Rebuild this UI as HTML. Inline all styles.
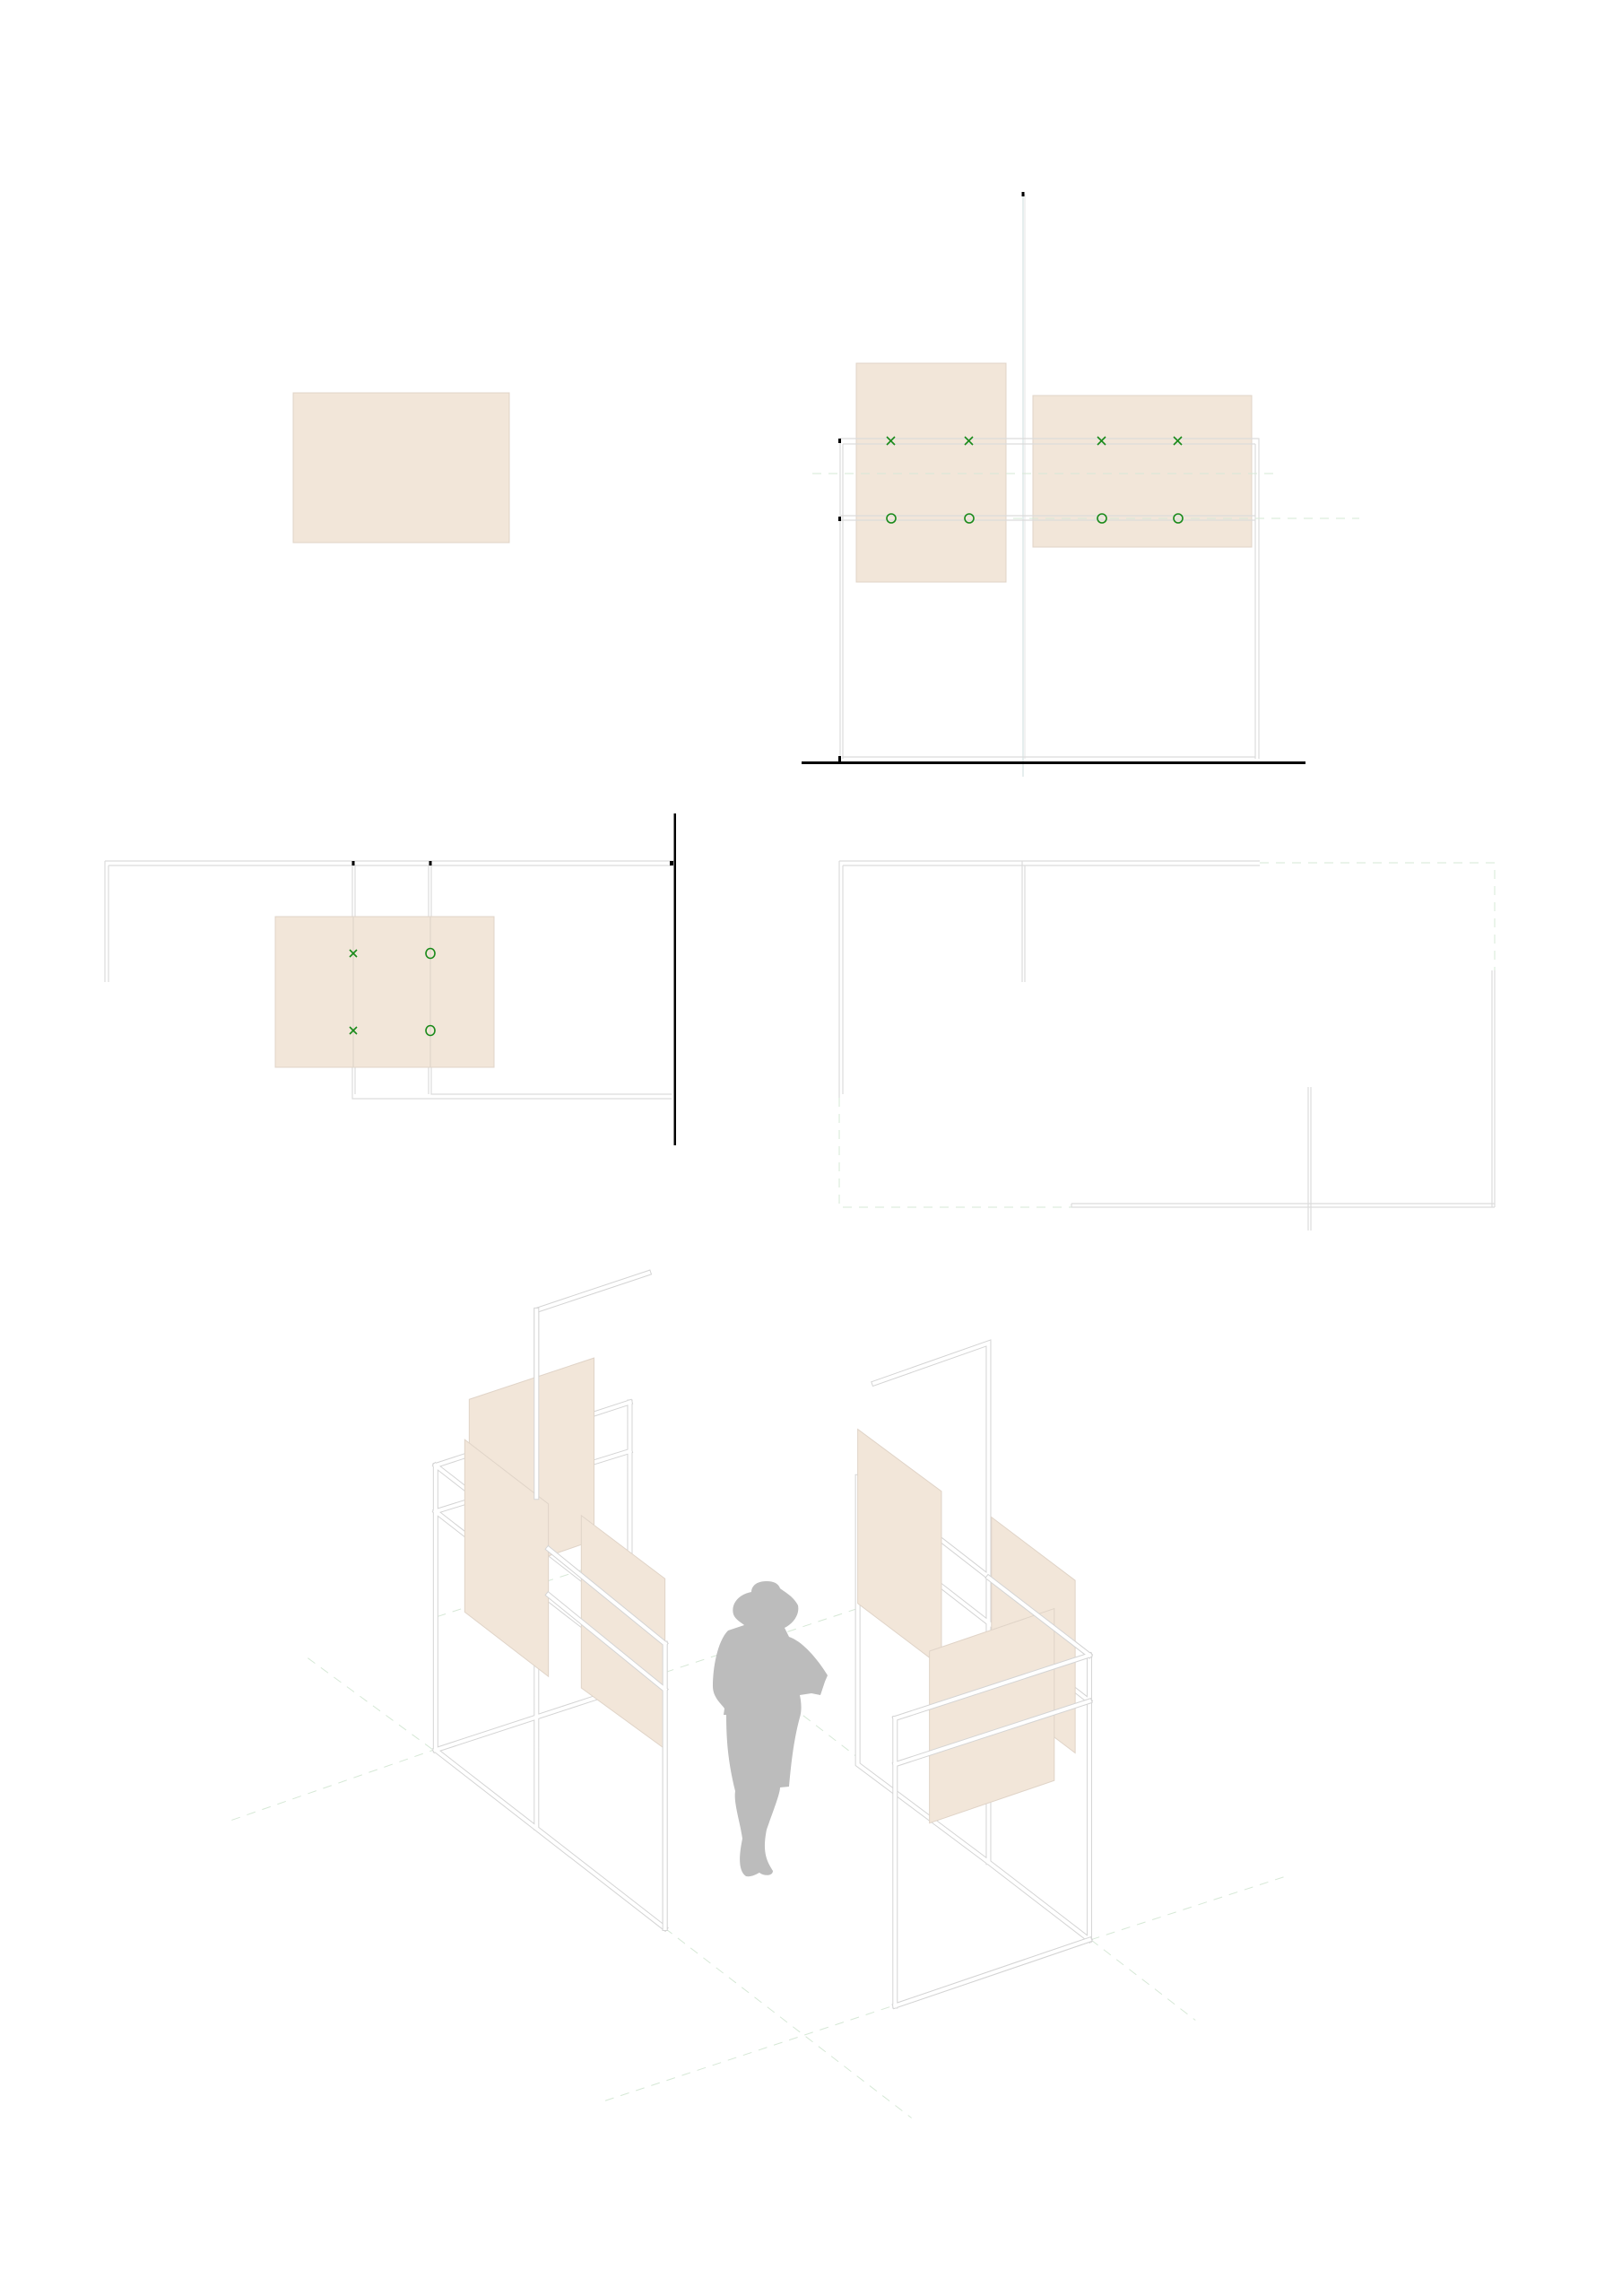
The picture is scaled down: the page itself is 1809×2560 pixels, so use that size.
<!DOCTYPE html>
<html><head><meta charset="utf-8"><style>html,body{margin:0;padding:0;background:#fff}svg{display:block}</style></head>
<body>
<svg width="1809" height="2560" viewBox="0 0 1809 2560" xmlns="http://www.w3.org/2000/svg">
<rect width="1809" height="2560" fill="#fff"/>
<defs>
<style>
.p{fill:#f2e6d9;stroke:#e0d4c8;stroke-width:1}
.t{fill:none;stroke:#d4d4d4;stroke-width:6;stroke-linecap:square}
.ti{fill:none;stroke:#fff;stroke-width:4;stroke-linecap:square}
.g{stroke:#1a8a1a;stroke-width:1.6;fill:none}
.d{fill:none;stroke:#d6e8d6;stroke-width:1;stroke-dasharray:10 8}
.k{fill:#000}
</style>
</defs>

<!-- Top left panel -->
<rect x="327" y="438" width="241" height="167" class="p"/>

<!-- Elevation -->
<rect x="955" y="405" width="167" height="244" class="p"/>
<rect x="1152" y="441" width="244" height="169" class="p"/>
<line x1="1141" y1="216" x2="1141" y2="866" stroke="#dde8e8" stroke-width="1.5"/>
<line x1="1143" y1="216" x2="1143" y2="846" stroke="#e6e6e6" stroke-width="1"/>
<rect x="1139.5" y="214" width="3" height="5" class="k"/>
<g fill="none" stroke="#dcdcdc" stroke-width="1.2">
<path d="M937 489 H1404 V846 M937 489 V846 M940 495 V846 M1400 495 V846 M940 495 H1400"/>
<path d="M937 575 H1400 M937 580 H1400"/>
<path d="M940 844 H1400"/>
</g>
<line x1="906" y1="528" x2="1421" y2="528" class="d"/>
<line x1="1130" y1="578" x2="1516" y2="578" class="d"/>
<rect x="935" y="489" width="3" height="5" class="k"/>
<rect x="935" y="576" width="3" height="5" class="k"/>
<rect x="935" y="843" width="3" height="6" class="k"/>
<rect x="894" y="849" width="562" height="3" class="k"/>
<g class="g">
<path d="M989 487l9 9M998 487l-9 9M1076 487l9 9M1085 487l-9 9M1224 487l9 9M1233 487l-9 9M1309 487l9 9M1318 487l-9 9"/>
<circle cx="994" cy="578" r="5"/><circle cx="1081" cy="578" r="5"/><circle cx="1229" cy="578" r="5"/><circle cx="1314" cy="578" r="5"/>
</g>

<!-- Plan left -->
<g fill="none" stroke="#dcdcdc" stroke-width="1.2">
<path d="M117 960 H752 M121 965 H749 M117 960 V1095 M121 965 V1095"/>
<path d="M393 962 V1225 H749 M396 965 V1220 M478 965 V1220 M481 965 V1220 H749"/>
</g>
<rect x="307" y="1022" width="244" height="168" class="p"/>
<line x1="394" y1="1022" x2="394" y2="1190" stroke="#dcd2c8" stroke-width="1"/>
<line x1="480" y1="1022" x2="480" y2="1190" stroke="#dcd2c8" stroke-width="1"/>
<rect x="392.5" y="960" width="3" height="5" class="k"/>
<rect x="478.5" y="960" width="3" height="5" class="k"/>
<rect x="747" y="960" width="4" height="5" class="k"/>
<rect x="751.5" y="907" width="2.5" height="370" class="k"/>
<g class="g">
<path d="M390 1059l8 8M398 1059l-8 8M390 1145l8 8M398 1145l-8 8"/>
<ellipse cx="480" cy="1063" rx="5" ry="5.5"/><ellipse cx="480" cy="1149" rx="5" ry="5.5"/>
</g>

<!-- Plan right -->
<g fill="none" stroke="#dcdcdc" stroke-width="1.2">
<path d="M936 960 H1405 M940 965 H1405 M936 960 V1224 M940 965 V1220"/>
<path d="M1140 960 V1095 M1143 965 V1095"/>
<path d="M1664 1082 V1346 M1667 1082 V1346 M1195 1342 H1667 M1195 1346 H1667 M1195 1342 V1346"/>
<path d="M1459 1212 V1372 M1462 1212 V1372"/>
</g>
<path d="M1405 962 H1667 V1082 M936 1224 V1346 H1195" class="d" stroke="#ddeedd"/>

<!-- Isometric -->
<g transform="translate(200 1400) scale(0.8333 0.641)">
<g class="d" stroke="#d4e6d8">
<path vector-effect="non-scaling-stroke" d="M172 700 L340 860 M70 982 L340 860 M650 1170 L980 1500 M570 1470 L955 1305 M1220 1190 L1480 1080 M1220 1190 L1360 1330 M345 628 L555 540 M650 725 L905 615 M835 800 L905 870"/>
</g>
<!-- left structure back tubes -->
<g>
<path class="t" vector-effect="non-scaling-stroke" d="M478 995 V95 L628 30 M603 255 V770 M343 365 L603 255 M343 445 L603 340 M343 860 L555 770 M343 365 V860 M343 860 L650 1170 M650 675 V1170 M343 365 L650 675 M343 445 L650 755"/>
<path class="ti" vector-effect="non-scaling-stroke" d="M478 995 V95 L628 30 M603 255 V770 M343 365 L603 255 M343 445 L603 340 M343 860 L555 770 M343 365 V860 M343 860 L650 1170 M650 675 V1170 M343 365 L650 675 M343 445 L650 755"/>
</g>
<polygon class="p" vector-effect="non-scaling-stroke" points="388,250 555,178 555,495 388,570"/>
<polygon class="p" vector-effect="non-scaling-stroke" points="382,320 494,432 494,732 382,620"/>
<polygon class="p" vector-effect="non-scaling-stroke" points="538,452 650,562 650,858 538,752"/>
<path class="t" vector-effect="non-scaling-stroke" d="M478 95 V420 M494 510 L650 675 M494 590 L650 755 M650 675 V1170"/>
<path class="ti" vector-effect="non-scaling-stroke" d="M478 95 V420 M494 510 L650 675 M494 590 L650 755 M650 675 V1170"/>

<!-- right structure -->
<path class="t" vector-effect="non-scaling-stroke" d="M930 222 L1083 152 V1055 M908 385 V885 L1083 1055 L1218 1190 M1020 495 L1218 695 M1020 575 L1218 775 M1218 695 V1190 M958 1305 L1218 1190"/>
<path class="ti" vector-effect="non-scaling-stroke" d="M930 222 L1083 152 V1055 M908 385 V885 L1083 1055 L1218 1190 M1020 495 L1218 695 M1020 575 L1218 775 M1218 695 V1190 M958 1305 L1218 1190"/>
<polygon class="p" vector-effect="non-scaling-stroke" points="908,302 1020,410 1020,715 908,605"/>
<polygon class="p" vector-effect="non-scaling-stroke" points="1087,455 1199,565 1199,865 1087,755"/>
<polygon class="p" vector-effect="non-scaling-stroke" points="1004,688 1171,614 1171,913 1004,987"/>
<path class="t" vector-effect="non-scaling-stroke" d="M958 805 L1218 695 M958 885 L1218 775 M958 805 V1305 M958 1305 L1218 1190 M1083 560 L1218 695"/>
<path class="ti" vector-effect="non-scaling-stroke" d="M958 805 L1218 695 M958 885 L1218 775 M958 805 V1305 M958 1305 L1218 1190 M1083 560 L1218 695"/>
</g>

<!-- figure -->
<path fill="#bcbcbc" d="M855 1763 C840 1763 838 1772 838 1775 C822 1778 815 1790 818 1800 C820 1806 828 1810 830 1812 L812 1818 C800 1830 795 1860 795 1880 C795 1893 805 1900 808 1905 L807 1912 L810 1912 C810 1940 812 1965 820 1997 C818 2010 825 2030 828 2050 C825 2065 822 2085 832 2092 C838 2093 843 2090 847 2088 C852 2092 862 2092 862 2086 C855 2075 850 2065 855 2040 C862 2020 870 2000 870 1993 L880 1992 C882 1970 885 1940 892 1915 C895 1905 893 1895 892 1890 L905 1888 L915 1890 L920 1875 L923 1868 C912 1850 895 1830 880 1825 L875 1815 C885 1810 892 1800 890 1790 C885 1780 875 1775 870 1771 C868 1765 862 1763 855 1763 Z"/>
</svg>
</body></html>
